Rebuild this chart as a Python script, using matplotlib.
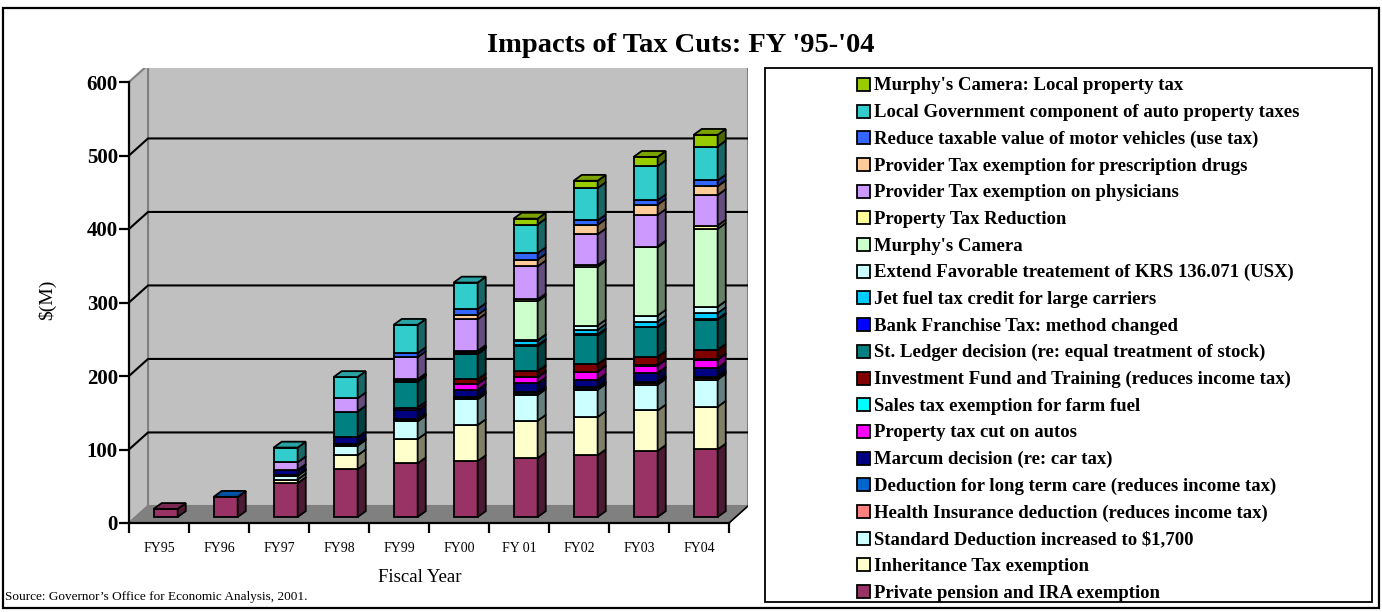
import numpy as np
import matplotlib
matplotlib.use("Agg")
import matplotlib.pyplot as plt
from matplotlib.patches import Rectangle, Polygon

# Datos ($M por año fiscal), de abajo hacia arriba en la pila
years = ["FY95", "FY96", "FY97", "FY98", "FY99", "FY00", "FY 01", "FY02", "FY03", "FY04"]

pension      = [11, 27, 46, 65, 73, 76, 80, 84, 90, 92]
inheritance  = [0, 0, 5, 19, 33, 49, 51, 52, 55, 58]
std_ded      = [0, 0, 5, 13, 24, 35, 35, 37, 35, 37]
health_ins   = [0, 0, 0.5, 1, 1.5, 1.5, 1.5, 1.5, 2, 2]
long_term    = [0, 0.5, 0.5, 1, 1.5, 1.5, 2, 2, 2, 2]
marcum       = [0, 0, 7, 9.5, 12, 10, 12.5, 10, 12, 11.5]
auto_cut     = [0, 0, 0, 0, 4, 8, 8, 11, 10, 11.5]
farm_fuel    = [0, 0, 0, 0, 0, 0.5, 0.5, 0.5, 0.5, 0.5]
invest_fund  = [0, 0, 0, 0, 0, 6, 8, 10, 11.5, 13]
st_ledger    = [0, 0, 0, 35, 35, 34, 34, 39, 40, 41]
bank_fran    = [0, 0, 0, 0, 1, 1, 1.5, 1.5, 1, 1]
jet_fuel     = [0, 0, 0, 0, 0.5, 1, 6, 6, 7, 8]
krs_usx      = [0, 0, 0, 0, 0.5, 0.5, 0.5, 6, 8, 8.5]
murphy       = [0, 0, 0, 0, 0.5, 1, 53, 80, 93, 106]
prop_red     = [0, 0, 0, 0, 1, 1, 2.5, 2, 1, 4.5]
physicians   = [0, 0, 10.5, 18, 30, 43, 45, 42, 43, 41.5]
prescription = [0, 0, 0, 0, 0, 6, 9, 13, 14, 12]
motor_veh    = [0, 0, 0, 0, 5.5, 8, 9, 6, 6, 8]
local_gov    = [0, 0, 20, 29, 38.5, 36, 39, 44, 46.5, 46]
murphy_local = [0, 0, 0, 0, 0, 0, 8, 10, 12.5, 16]

series = [pension, inheritance, std_ded, health_ins, long_term, marcum, auto_cut,
          farm_fuel, invest_fund, st_ledger, bank_fran, jet_fuel, krs_usx, murphy,
          prop_red, physicians, prescription, motor_veh, local_gov, murphy_local]

labels = ["Private pension and IRA exemption",
          "Inheritance Tax exemption",
          "Standard Deduction increased to $1,700",
          "Health Insurance deduction (reduces income tax)",
          "Deduction for long term care (reduces income tax)",
          "Marcum decision (re: car tax)",
          "Property tax cut on autos",
          "Sales tax exemption for farm fuel",
          "Investment Fund and Training (reduces income tax)",
          "St. Ledger decision (re: equal treatment of stock)",
          "Bank Franchise Tax: method changed",
          "Jet fuel tax credit for large carriers",
          "Extend Favorable treatement of KRS 136.071 (USX)",
          "Murphy's Camera",
          "Property Tax Reduction",
          "Provider Tax exemption on physicians",
          "Provider Tax exemption for prescription drugs",
          "Reduce taxable value of motor vehicles (use tax)",
          "Local Government component of auto property taxes",
          "Murphy's Camera: Local property tax"]

colors = ["#993366", "#FFFFCC", "#CCFFFF", "#FF8080", "#0066CC", "#000080", "#FF00FF",
          "#00FFFF", "#800000", "#008080", "#0000FF", "#00CCFF", "#CCFFFF", "#CCFFCC",
          "#FFFF99", "#CC99FF", "#FFCC99", "#3366FF", "#33CCCC", "#99CC00"]

yticks = [0, 100, 200, 300, 400, 500, 600]

W, H = 1382, 612
serif = "Liberation Serif"

# profundidad falsa del grafico 3D (en unidades de datos)
wall_dx, wall_dy = 0.317, 23.2
bar_f = 0.35
bar_w = 0.40
bar_ddx, bar_ddy = 0.135, 8.0


def fx(px):
    return px / W


def fy(py):
    return 1 - py / H


def shade(c, k):
    r, g, b = matplotlib.colors.to_rgb(c)
    return (r * k, g * k, b * k)


fig = plt.figure(figsize=(W / 100, H / 100), dpi=100)
fig.patches.append(Rectangle((fx(3), fy(608)), fx(1376), 600 / H, transform=fig.transFigure,
                             fill=False, edgecolor="black", linewidth=1.6))

ax = fig.add_axes([fx(129), fy(523), fx(748 - 129), (523 - 68) / H])
ax.set_xlim(-0.5, 9.5 + wall_dx)
ax.set_ylim(0, 455 / 0.735)
ax.patch.set_visible(False)

x0 = -0.5
x1 = 9.5
top = 600
# paredes y piso
ax.add_patch(Polygon([(x0 + wall_dx, wall_dy), (x1 + wall_dx, wall_dy),
                      (x1 + wall_dx, top + wall_dy), (x0 + wall_dx, top + wall_dy)],
                     closed=True, facecolor="#C0C0C0", edgecolor="#808080", lw=1.5, zorder=0))
ax.add_patch(Polygon([(x0, 0), (x0 + wall_dx, wall_dy), (x0 + wall_dx, top + wall_dy), (x0, top)],
                     closed=True, facecolor="#C0C0C0", edgecolor="#808080", lw=1.5, zorder=0))
ax.add_patch(Polygon([(x0, 0), (x1, 0), (x1 + wall_dx, wall_dy), (x0 + wall_dx, wall_dy)],
                     closed=True, facecolor="#808080", edgecolor="#808080", lw=1, zorder=0.5))
ax.plot([x1, x1 + wall_dx], [0, wall_dy], color="black", lw=1.2, zorder=0.6)

for v in yticks[1:-1]:
    ax.plot([x0, x0 + wall_dx, x1 + wall_dx], [v, v + wall_dy, v + wall_dy],
            color="black", lw=1.5, zorder=0.4)

# barras apiladas
xs = np.arange(len(years)) + bar_f * wall_dx
base = bar_f * wall_dy
cum = np.zeros(len(years))
top_color = [None] * len(years)
for vals, col in zip(series, colors):
    vals = np.array(vals, dtype=float)
    for i in range(len(years)):
        if vals[i] <= 0:
            continue
        b = base + cum[i]
        t = b + vals[i]
        ax.bar(xs[i], vals[i], width=bar_w, bottom=b, color=col,
               edgecolor="black", linewidth=1.3, zorder=2)
        xr = xs[i] + bar_w / 2
        ax.fill([xr, xr + bar_ddx, xr + bar_ddx, xr], [b, b + bar_ddy, t + bar_ddy, t],
                facecolor=shade(col, 0.5), edgecolor="black", linewidth=1.3, zorder=2)
        top_color[i] = col
    cum += vals

for i in range(len(years)):
    xl = xs[i] - bar_w / 2
    xr = xs[i] + bar_w / 2
    t = base + cum[i]
    ax.fill([xl, xr, xr + bar_ddx, xl + bar_ddx], [t, t, t + bar_ddy, t + bar_ddy],
            facecolor=shade(top_color[i], 0.8), edgecolor="black", linewidth=1.3, zorder=2)

# ejes
for s in ["top", "right"]:
    ax.spines[s].set_visible(False)
ax.spines["left"].set_bounds(0, 600)
ax.spines["bottom"].set_bounds(x0, x1)
for s in ["left", "bottom"]:
    ax.spines[s].set_linewidth(1.6)
    ax.spines[s].set_zorder(3)
ax.set_yticks(yticks)
ax.set_yticklabels([str(v) for v in yticks], fontfamily=serif, fontweight="bold", fontsize=15)
ax.tick_params(axis="y", direction="out", length=7, width=1.6, pad=1)
ax.set_xticks(np.arange(-0.5, 10, 1.0))
ax.set_xticklabels([])
ax.set_xticks(np.arange(len(years)), minor=True)
ax.set_xticklabels(years, minor=True, fontfamily=serif, fontsize=10)
ax.tick_params(axis="x", which="major", direction="out", length=7, width=1.6)
ax.tick_params(axis="x", which="minor", length=0, pad=14)

fig.text(fx(47), fy(300), "$(M)", rotation=90, ha="center", va="center",
         fontfamily=serif, fontsize=14)
fig.text(fx(420), fy(578), "Fiscal Year", ha="center", va="center",
         fontfamily=serif, fontsize=13.5)
fig.text(fx(5), fy(597), "Source: Governor\u2019s Office for Economic Analysis, 2001.",
         ha="left", va="center", fontfamily=serif, fontsize=9.5)
fig.text(fx(681), fy(46), "Impacts of Tax Cuts: FY '95-'04", ha="center", va="center",
         fontfamily=serif, fontweight="bold", fontsize=20.5)

# leyenda
fig.patches.append(Rectangle((fx(765), fy(602)), fx(1372 - 765), (602 - 68) / H,
                             transform=fig.transFigure, facecolor="white",
                             edgecolor="black", linewidth=1.3))
row0, row_step = 85, (592 - 85) / 19
for k, (lab, col) in enumerate(zip(labels[::-1], colors[::-1])):
    yc = row0 + k * row_step
    fig.patches.append(Rectangle((fx(857), fy(yc + 6)), fx(13), 13 / H,
                                 transform=fig.transFigure, facecolor=col,
                                 edgecolor="black", linewidth=1.3))
    fig.text(fx(874), fy(yc + 1), lab, ha="left", va="center", fontfamily=serif,
             fontweight="bold", fontsize=13.5)

fig.savefig("out.png", dpi=100)
